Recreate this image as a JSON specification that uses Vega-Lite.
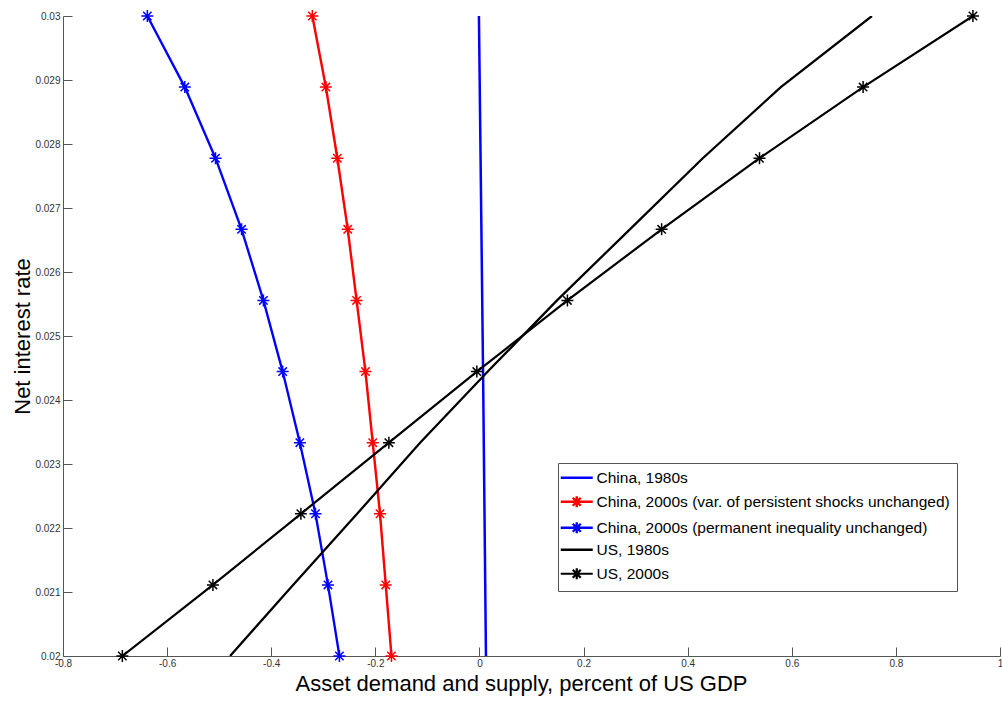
{
  "$schema": "https://vega.github.io/schema/vega-lite/v6.json",
  "autosize": "none",
  "width": 937,
  "height": 640,
  "padding": {"left": 63, "top": 16, "right": 2, "bottom": 51},
  "background": "white",
  "config": {
    "view": {"stroke": null},
    "font": "Liberation Sans",
    "axis": {"grid": false, "domainColor": "#555", "tickColor": "#555", "labelColor": "#333", "labelFont": "Liberation Sans", "labelFontSize": 10, "titleFont": "Liberation Sans", "titleFontWeight": "normal", "titleFontSize": 22, "titleColor": "black", "tickSize": -9, "domainWidth": 1, "tickWidth": 1}
  },
  "data": {"values": [
    {"s": "China, 1980s", "x": 0.0125, "r": 0.02, "m": false},
    {"s": "China, 1980s", "x": 0.007, "r": 0.0244, "m": false},
    {"s": "China, 1980s", "x": -0.001, "r": 0.03, "m": false},

    {"s": "China, 2000s (var. of persistent shocks unchanged)", "x": -0.169, "r": 0.02, "m": true},
    {"s": "China, 2000s (var. of persistent shocks unchanged)", "x": -0.180, "r": 0.021111, "m": true},
    {"s": "China, 2000s (var. of persistent shocks unchanged)", "x": -0.191, "r": 0.022222, "m": true},
    {"s": "China, 2000s (var. of persistent shocks unchanged)", "x": -0.205, "r": 0.023333, "m": true},
    {"s": "China, 2000s (var. of persistent shocks unchanged)", "x": -0.219, "r": 0.024444, "m": true},
    {"s": "China, 2000s (var. of persistent shocks unchanged)", "x": -0.236, "r": 0.025556, "m": true},
    {"s": "China, 2000s (var. of persistent shocks unchanged)", "x": -0.253, "r": 0.026667, "m": true},
    {"s": "China, 2000s (var. of persistent shocks unchanged)", "x": -0.273, "r": 0.027778, "m": true},
    {"s": "China, 2000s (var. of persistent shocks unchanged)", "x": -0.295, "r": 0.028889, "m": true},
    {"s": "China, 2000s (var. of persistent shocks unchanged)", "x": -0.321, "r": 0.03, "m": true},

    {"s": "China, 2000s (permanent inequality unchanged)", "x": -0.269, "r": 0.02, "m": true},
    {"s": "China, 2000s (permanent inequality unchanged)", "x": -0.291, "r": 0.021111, "m": true},
    {"s": "China, 2000s (permanent inequality unchanged)", "x": -0.315, "r": 0.022222, "m": true},
    {"s": "China, 2000s (permanent inequality unchanged)", "x": -0.345, "r": 0.023333, "m": true},
    {"s": "China, 2000s (permanent inequality unchanged)", "x": -0.378, "r": 0.024444, "m": true},
    {"s": "China, 2000s (permanent inequality unchanged)", "x": -0.415, "r": 0.025556, "m": true},
    {"s": "China, 2000s (permanent inequality unchanged)", "x": -0.457, "r": 0.026667, "m": true},
    {"s": "China, 2000s (permanent inequality unchanged)", "x": -0.507, "r": 0.027778, "m": true},
    {"s": "China, 2000s (permanent inequality unchanged)", "x": -0.566, "r": 0.028889, "m": true},
    {"s": "China, 2000s (permanent inequality unchanged)", "x": -0.638, "r": 0.03, "m": true},

    {"s": "US, 1980s", "x": -0.479, "r": 0.02, "m": false},
    {"s": "US, 1980s", "x": -0.358, "r": 0.021111, "m": false},
    {"s": "US, 1980s", "x": -0.235, "r": 0.022222, "m": false},
    {"s": "US, 1980s", "x": -0.114, "r": 0.023333, "m": false},
    {"s": "US, 1980s", "x": 0.016, "r": 0.024444, "m": false},
    {"s": "US, 1980s", "x": 0.149, "r": 0.025556, "m": false},
    {"s": "US, 1980s", "x": 0.289, "r": 0.026667, "m": false},
    {"s": "US, 1980s", "x": 0.429, "r": 0.027778, "m": false},
    {"s": "US, 1980s", "x": 0.579, "r": 0.028889, "m": false},
    {"s": "US, 1980s", "x": 0.754, "r": 0.03, "m": false},

    {"s": "US, 2000s", "x": -0.686, "r": 0.02, "m": true},
    {"s": "US, 2000s", "x": -0.512, "r": 0.021111, "m": true},
    {"s": "US, 2000s", "x": -0.343, "r": 0.022222, "m": true},
    {"s": "US, 2000s", "x": -0.174, "r": 0.023333, "m": true},
    {"s": "US, 2000s", "x": -0.005, "r": 0.024444, "m": true},
    {"s": "US, 2000s", "x": 0.169, "r": 0.025556, "m": true},
    {"s": "US, 2000s", "x": 0.350, "r": 0.026667, "m": true},
    {"s": "US, 2000s", "x": 0.538, "r": 0.027778, "m": true},
    {"s": "US, 2000s", "x": 0.737, "r": 0.028889, "m": true},
    {"s": "US, 2000s", "x": 0.948, "r": 0.03, "m": true}
  ]},
  "encoding": {
    "x": {"field": "x", "type": "quantitative", "scale": {"domain": [-0.8, 1], "nice": false, "zero": false},
      "axis": {"title": "Asset demand and supply, percent of US GDP", "titleX": 458, "values": [-0.8, -0.6, -0.4, -0.2, 0, 0.2, 0.4, 0.6, 0.8, 1], "labelExpr": "'' + datum.value", "labelPadding": 11, "titlePadding": 5, "labelFlush": false}},
    "y": {"field": "r", "type": "quantitative", "scale": {"domain": [0.02, 0.03], "nice": false, "zero": false},
      "axis": {"title": "Net interest rate", "values": [0.02, 0.021, 0.022, 0.023, 0.024, 0.025, 0.026, 0.027, 0.028, 0.029, 0.03], "labelExpr": "'' + datum.value", "labelPadding": 12, "titlePadding": 0, "labelFlush": false}},
    "color": {"field": "s", "type": "nominal",
      "scale": {"domain": ["China, 1980s", "China, 2000s (var. of persistent shocks unchanged)", "China, 2000s (permanent inequality unchanged)", "US, 1980s", "US, 2000s"], "range": ["#0000ff", "#ff0000", "#0000ff", "#000000", "#000000"]},
      "legend": {"title": null, "orient": "none", "legendX": 495, "legendY": 447, "strokeColor": "#555", "fillColor": "white", "padding": 7, "labelFontSize": 15.5, "labelFont": "Liberation Sans", "labelColor": "black", "labelLimit": 0, "symbolSize": 100, "symbolOffset": 4, "labelOffset": 12, "rowPadding": 4,
        "encode": {"symbols": {"update": {"shape": {"signal": "indexof(datum.value, '1980s') >= 0 ? 'M-3.2,0L3.2,0' : 'M-3.2,0L3.2,0M0,-1.1L0,1.1M-0.8,-0.8L0.8,0.8M-0.8,0.8L0.8,-0.8'"}, "fill": {"value": "transparent"}, "strokeWidth": {"value": 1.5}, "opacity": {"value": 1}}}}}}
  },
  "layer": [
    {"mark": {"type": "line", "clip": true},
      "encoding": {
        "order": {"field": "r", "type": "quantitative"},
        "strokeWidth": {"field": "s", "type": "nominal", "legend": null,
          "scale": {"domain": ["China, 1980s", "China, 2000s (var. of persistent shocks unchanged)", "China, 2000s (permanent inequality unchanged)", "US, 1980s", "US, 2000s"], "range": [2.5, 2.2, 1.5, 1, 1.8]}}}},
    {"transform": [{"filter": "datum.m"}],
      "mark": {"type": "point", "filled": false, "strokeWidth": 1.5, "size": 144, "opacity": 1, "clip": false,
        "shape": "M-1,0L1,0M0,-1L0,1M-0.7,-0.7L0.7,0.7M-0.7,0.7L0.7,-0.7"}}
  ]
}
